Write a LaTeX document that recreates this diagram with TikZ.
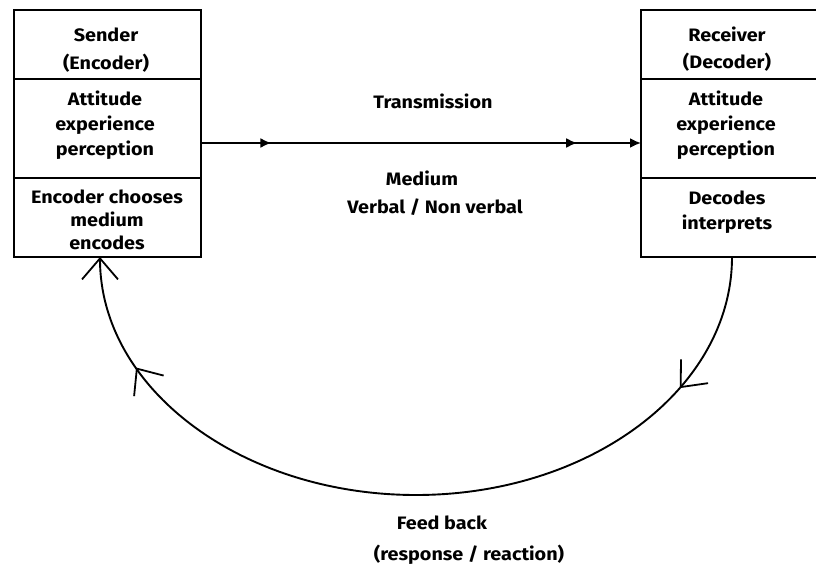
\documentclass[tikz,border=0pt]{standalone}
\usepackage{fontspec}
\setmainfont{Fira Sans}[FakeStretch=1.1]
\usetikzlibrary{arrows.meta,decorations.markings}

\tikzset{
  tri/.tip={Latex[length=11pt,width=10pt]},
  barb/.tip={Straight Barb[length=21pt,width=36pt,line width=1.8pt]}
}

\begin{document}
\begin{tikzpicture}[x=1pt,y=-1pt,
  sect/.style={draw, line width=2.2pt, minimum width=187pt, inner sep=0pt, outer sep=0pt},
  rsect/.style={minimum width=189pt, inner sep=0pt, outer sep=0pt},
  frame/.style={line width=2.2pt},
  lbl/.style={font=\bfseries\fontsize{18}{#1}\selectfont, align=center, inner sep=0pt},
  lbl/.default=24,
  flow/.style={line width=1.9pt}
]
\useasboundingbox (0,0) rectangle (816,564);
\clip (0,0) rectangle (816,564);

% Sender block
\node[sect, minimum height=69pt] (s1) at (107.5,44.5) {};
\node[sect, minimum height=99pt] (s2) at (107.5,128.5) {};
\node[sect, minimum height=79pt] (s3) at (107.5,217.5) {};
\node[lbl=28] (s1t) at (106,50) {Sender\\(Encoder)};
\node[lbl=25] (s2t) at (105,125) {Attitude\\experience\\perception};
\node[lbl=23] (s3t) at (107,220) {Encoder chooses\\medium\\encodes};

% Receiver block (runs off the right edge)
\node[rsect, minimum height=69pt] (r1) at (735.5,44.5) {};
\node[rsect, minimum height=99pt] (r2) at (735.5,128.5) {};
\node[rsect, minimum height=79pt] (r3) at (735.5,217.5) {};
\draw[frame] (r1.north east) -- (r1.north west) -- (r3.south west) -- (r3.south east);
\draw[frame] (r1.south west) -- (r1.south east);
\draw[frame] (r2.south west) -- (r2.south east);
\node[lbl=27] (r1t) at (727,49.5) {Receiver\\(Decoder)};
\node[lbl=25] (r2t) at (726,125) {Attitude\\experience\\perception};
\node[lbl=25] (r3t) at (727,212.5) {Decodes\\interprets};

% Transmission channel
\draw[flow, -{tri},
  postaction={decorate, decoration={markings,
    mark=at position 0.16 with {\arrow{tri}},
    mark=at position 0.855 with {\arrow{tri}}}}]
  (s2.east |- 0,143) -- (r2.west |- 0,143);
\node[lbl] (trans) at (433,101) {Transmission};
\node[lbl] (medium) at (422,178) {Medium};
\node[lbl] (verbal) at (435,207) {Verbal / Non verbal};

% Feedback loop
\coordinate (fbr) at ([xshift=91pt]r3.south west);
\coordinate (fbl) at ([xshift=-7.5pt]s3.south);
\draw[flow, -{barb},
  postaction={decorate, decoration={markings,
    mark=at position 0.165 with {\arrow{barb}},
    mark=at position 0.865 with {\arrow{barb}}}}]
  (fbr) arc[start angle=0, end angle=180, x radius=316, y radius=238];
\node[lbl] (fb1) at (442,523) {Feed back};
\node[lbl] (fb2) at (469,555) {(response / reaction)};
\end{tikzpicture}
\end{document}
